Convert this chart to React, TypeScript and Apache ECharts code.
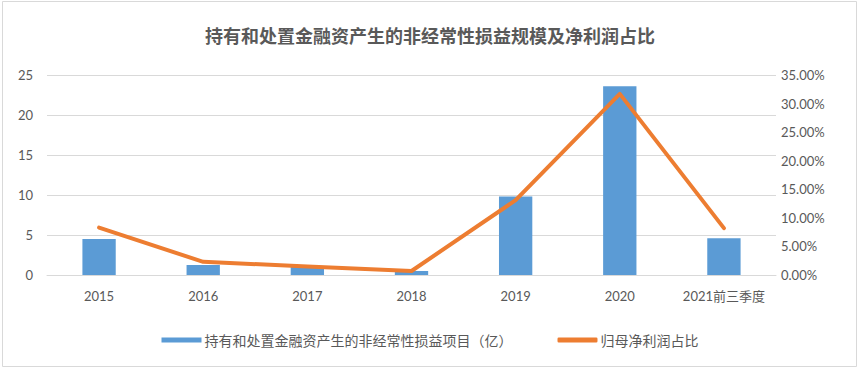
import React, { useEffect, useRef } from "react";
import * as echarts from "echarts";

const categories = ["2015", "2016", "2017", "2018", "2019", "2020", "2021前三季度"];
const gainValues = [4.5, 1.25, 1.0, 0.5, 9.8, 23.6, 4.6];
const ratioValues = [0.083, 0.023, 0.015, 0.007, 0.131, 0.317, 0.082];
const leftTicks = { min: 0, max: 25, interval: 5 };
const rightTicks = { min: 0, max: 0.35, interval: 0.05 };
const titleText = "持有和处置金融资产生的非经常性损益规模及净利润占比";
const barName = "持有和处置金融资产生的非经常性损益项目（亿）";
const lineName = "归母净利润占比";

const FONT = "Lato, 'Noto Sans CJK SC', sans-serif";
const CJK = "'Noto Sans CJK SC', sans-serif";
const TXT = "#595959";

export default function App() {
  const ref = useRef<HTMLDivElement>(null);
  useEffect(() => {
    if (!ref.current) return;
    const chart = echarts.init(ref.current, undefined, { renderer: "svg" });
    chart.setOption({
      animation: false,
      backgroundColor: "#ffffff",
      textStyle: { fontFamily: FONT },
      title: {
        text: titleText,
        left: "center",
        top: 21,
        textStyle: { fontFamily: CJK, fontSize: 18, fontWeight: "bold", color: TXT },
      },
      graphic: [
        {
          type: "rect",
          shape: { x: 2.5, y: 1.5, width: 854, height: 365 },
          style: { fill: "none", stroke: "#d9d9d9", lineWidth: 1 },
          silent: true,
        },
      ],
      legend: {
        top: 328,
        left: "center",
        itemWidth: 40,
        itemHeight: 5,
        itemGap: 45,
        textStyle: { fontFamily: CJK, fontSize: 14, color: TXT, padding: [0, 0, 0, -2] },
        data: [
          { name: barName, icon: "rect" },
          { name: lineName, icon: "roundRect" },
        ],
      },
      grid: { left: 47, right: 84, top: 75, bottom: 96, containLabel: false },
      xAxis: {
        type: "category",
        data: categories,
        boundaryGap: true,
        axisLine: { lineStyle: { color: "#d9d9d9" } },
        axisTick: { show: false },
        axisLabel: { color: TXT, fontSize: 13, margin: 14, fontFamily: FONT, interval: 0 },
      },
      yAxis: [
        {
          type: "value",
          min: leftTicks.min,
          max: leftTicks.max,
          interval: leftTicks.interval,
          axisLine: { show: false },
          axisTick: { show: false },
          splitLine: { lineStyle: { color: "#d9d9d9" } },
          axisLabel: { color: TXT, fontSize: 13, margin: 14, fontFamily: FONT },
        },
        {
          type: "value",
          min: rightTicks.min,
          max: rightTicks.max,
          interval: rightTicks.interval,
          axisLine: { show: false },
          axisTick: { show: false },
          splitLine: { show: false },
          axisLabel: {
            color: TXT,
            fontSize: 13,
            margin: 5,
            fontFamily: FONT,
            formatter: (v: number) => (v * 100).toFixed(2) + "%",
          },
        },
      ],
      series: [
        {
          name: barName,
          type: "bar",
          data: gainValues,
          barWidth: "32%",
          itemStyle: { color: "#5B9BD5" },
          yAxisIndex: 0,
        },
        {
          name: lineName,
          type: "line",
          data: ratioValues,
          yAxisIndex: 1,
          showSymbol: false,
          symbol: "none",
          lineStyle: { color: "#ED7D31", width: 4, cap: "round", join: "round" },
          itemStyle: { color: "#ED7D31" },
        },
      ],
    });
    return () => chart.dispose();
  }, []);
  return (
    <div
      ref={ref}
      style={{ position: "fixed", left: 0, top: 0, width: 860, height: 371 }}
    />
  );
}
